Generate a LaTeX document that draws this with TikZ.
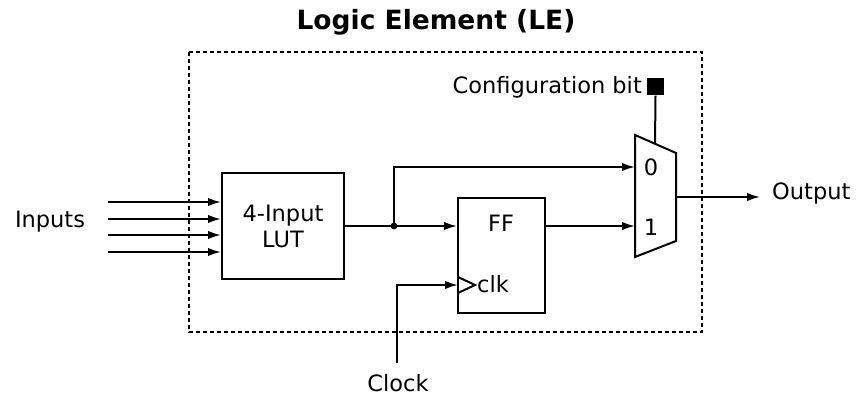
\documentclass[tikz,border=0pt]{standalone}
\usepackage{fontspec}
\setmainfont{DejaVu Sans}
\usetikzlibrary{arrows.meta,positioning}

\tikzset{
  wire/.style={line width=2pt},
  sig/.style={wire, -{Latex[length=13pt,width=8.5pt]}},
  blockbox/.style={draw, line width=2pt, inner sep=0pt, align=center},
  lbl/.style={inner sep=0pt, font=\fontsize{22.5}{26}\selectfont}
}

\begin{document}
\begin{tikzpicture}[x=1pt, y=-1pt]
  \useasboundingbox (0,0) rectangle (856,398);
  % Title
  \node[inner sep=0pt, font=\fontsize{26.5}{30}\selectfont\bfseries] (title) at (436,22) {Logic Element (LE)};
  % Dotted LE border
  \draw[line width=2pt, dash pattern=on 4pt off 3pt] (189,52) rectangle (702,332);

  % LUT block
  \node[blockbox, lbl, minimum width=122pt, minimum height=106pt] (lut) at (283,226) {4-Input\\LUT};
  \node[lbl] (inlbl) at (50,222) {Inputs};
  \foreach \y [count=\i] in {202,219,235,252} {
    \coordinate (in\i) at (108,\y);
    \draw[sig] (in\i) -- (in\i -| lut.west);
  }

  % Flip-flop
  \node[blockbox, minimum width=87pt, minimum height=115pt] (ff) at (501.5,255.5) {};
  \node[lbl] (fflbl) at (501,223) {FF};
  \coordinate (ffclk) at (458,285);
  \draw[wire] (458,277) -- (475,285) -- (458,293);
  \node[lbl, anchor=west] (clklbl) at (477,284) {clk};

  % Multiplexer
  \coordinate (mA) at (635,135);
  \coordinate (mB) at (676,153);
  \coordinate (mC) at (676,241);
  \coordinate (mD) at (635,257);
  \draw[wire, line join=miter] (mA) -- (mB) -- (mC) -- (mD) -- cycle;
  \coordinate (mux0) at (635,167);
  \coordinate (mux1) at (635,226);
  \coordinate (muxtop) at (655,144);
  \coordinate (muxout) at (676,197);
  \node[lbl] (zero) at (651,167) {0};
  \node[lbl] (one) at (651,227) {1};

  % Configuration bit
  \node[fill=black, minimum size=17pt, inner sep=0pt] (cfg) at (655.5,87) {};
  \node[lbl, anchor=east] (cfglbl) at (642,87) {Configuration bit};
  \draw[wire] (cfg.south) -- (muxtop);

  % Connections
  \coordinate (split) at (394,226);
  \draw[wire] (lut.east |- split) -- (split);
  \draw[sig] (split) -- (split -| ff.west);
  \draw[sig] (split) |- (mux0);
  \fill (split) circle (3.4pt);
  \draw[sig] (ff.east |- mux1) -- (mux1);

  % Output
  \node[lbl, anchor=west] (outlbl) at (772,193) {Output};
  \draw[sig] (muxout) -- (760,197);

  % Clock
  \node[lbl] (clock) at (398,383) {Clock};
  \coordinate (clkin) at (397,363);
  \draw[sig] (clkin) |- (ffclk);
\end{tikzpicture}
\end{document}
